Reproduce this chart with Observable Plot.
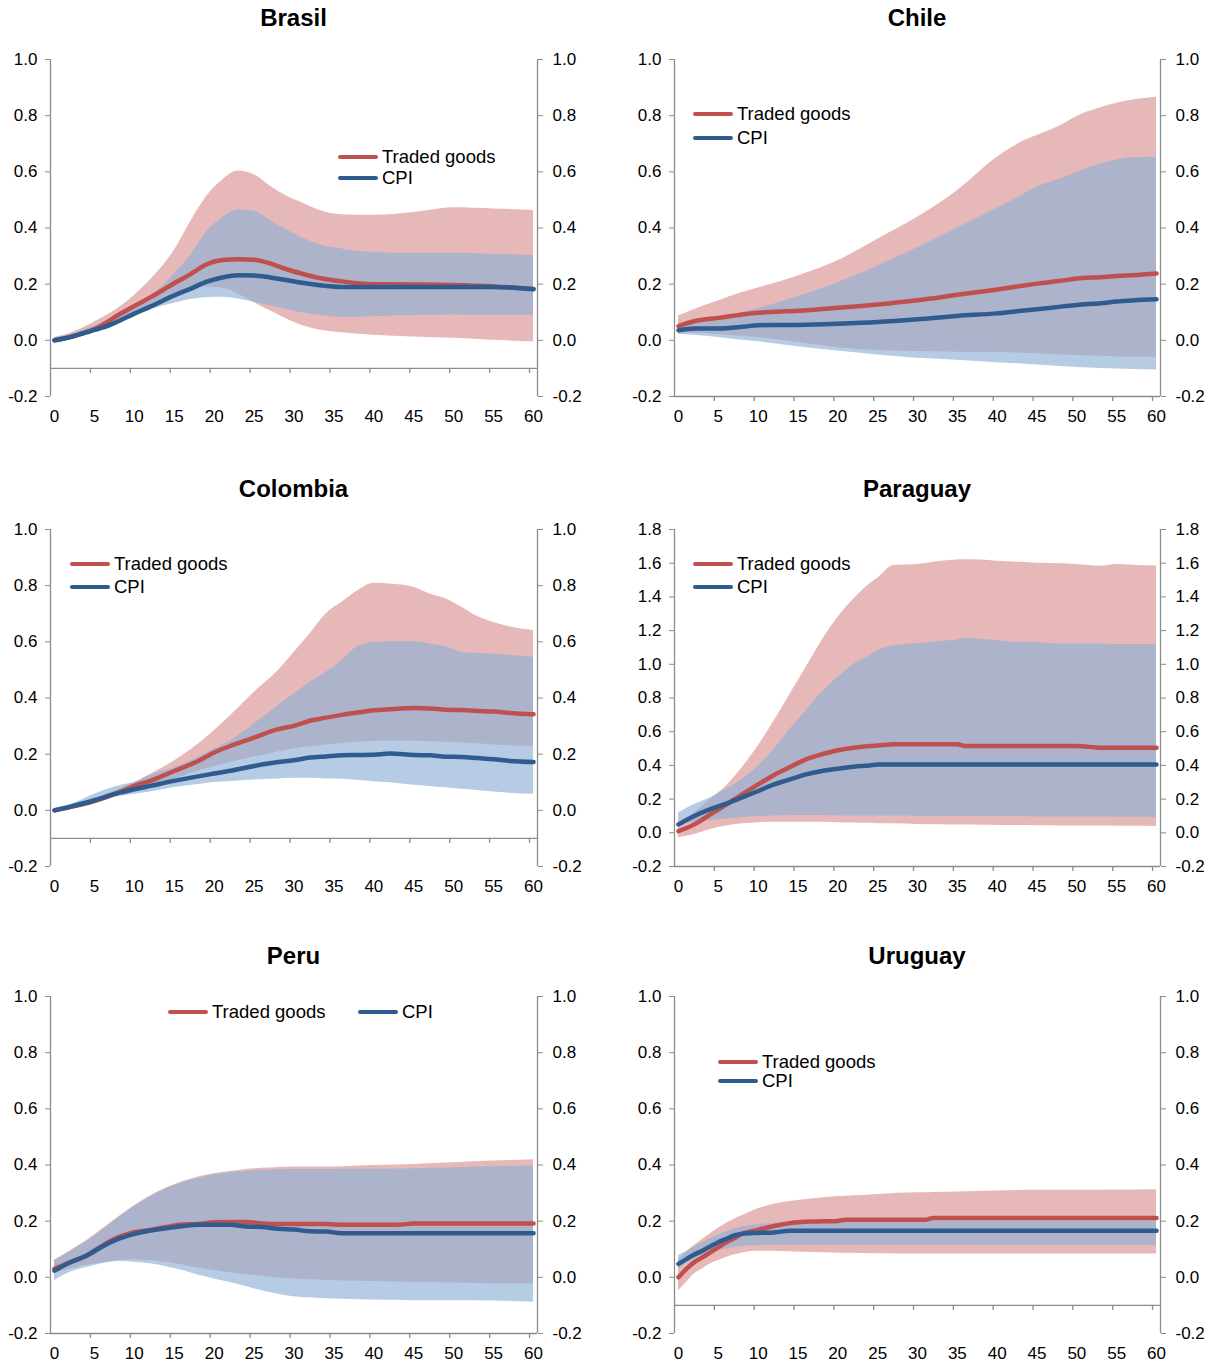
<!DOCTYPE html>
<html>
<head>
<meta charset="utf-8">
<script src="https://cdn.jsdelivr.net/npm/d3@7"></script>
<script src="https://cdn.jsdelivr.net/npm/@observablehq/plot@0.6"></script>
<style>
  body { margin: 0; background: #fff; font-family: "Liberation Sans", Arial, sans-serif; }
  #root { position: relative; width: 1213px; height: 1363px; overflow: hidden; }
  .panel { position: absolute; }
  .title { position: absolute; text-align: center; font-weight: bold; font-size: 24px; line-height: 28px; color: #000; }
  .lg-line { position: absolute; height: 4.5px; border-radius: 3px; }
  .lg-text { position: absolute; font-size: 18.5px; line-height: 22px; color: #000; white-space: nowrap; }
</style>
</head>
<body>
<div id="root"></div>
<script>
// ---------- tick labels ----------
const xTickLabels = [0, 5, 10, 15, 20, 25, 30, 35, 40, 45, 50, 55, 60];
const xTickMarks = [4.5, 9.5, 14.5, 19.5, 24.5, 29.5, 34.5, 39.5, 44.5, 49.5, 54.5, 59.5];
const yTicksStd = [-0.2, 0, 0.2, 0.4, 0.6, 0.8, 1.0];
const yTicksPar = [-0.2, 0, 0.2, 0.4, 0.6, 0.8, 1.0, 1.2, 1.4, 1.6, 1.8];
const seriesNames = ["Traded goods", "CPI"];

// ---------- Brasil ----------
const brT      = [0,2,4,5,6,8,10,12,15,17,19,21,23,25,27,29,31,33,36,40,45,50,55,60];
const brTr     = [0,0.012,0.03,0.04,0.055,0.09,0.122,0.153,0.203,0.235,0.27,0.286,0.289,0.287,0.274,0.254,0.237,0.223,0.21,0.2,0.199,0.197,0.192,0.183];
const brTrLo   = [-0.005,0.008,0.022,0.03,0.04,0.065,0.095,0.12,0.162,0.182,0.19,0.186,0.165,0.135,0.105,0.077,0.053,0.038,0.027,0.018,0.012,0.007,0.0,-0.005];
const brTrHi   = [0.01,0.025,0.05,0.065,0.08,0.115,0.16,0.215,0.32,0.42,0.51,0.57,0.603,0.59,0.55,0.515,0.49,0.465,0.447,0.445,0.455,0.472,0.468,0.462];
const brCpi    = [0,0.012,0.028,0.037,0.045,0.068,0.095,0.12,0.16,0.183,0.208,0.224,0.232,0.231,0.224,0.215,0.205,0.197,0.19,0.19,0.19,0.19,0.19,0.182];
const brCpiLo  = [-0.005,0.008,0.02,0.027,0.035,0.058,0.085,0.108,0.132,0.145,0.152,0.153,0.147,0.136,0.123,0.11,0.098,0.089,0.081,0.084,0.088,0.09,0.089,0.089];
const brCpiHi  = [0.005,0.018,0.04,0.05,0.062,0.09,0.122,0.155,0.235,0.3,0.385,0.435,0.465,0.46,0.428,0.395,0.365,0.342,0.325,0.313,0.31,0.31,0.306,0.302];

// ---------- Chile ----------
const clT      = [0,2,5,8,10,15,20,25,30,35,40,43,45,48,50,53,55,57,60];
const clTr     = [0.051,0.068,0.08,0.092,0.098,0.105,0.116,0.128,0.143,0.162,0.181,0.194,0.202,0.212,0.22,0.225,0.229,0.232,0.238];
const clTrLo   = [0.027,0.025,0.021,0.014,0.01,-0.008,-0.026,-0.036,-0.04,-0.042,-0.043,-0.046,-0.048,-0.052,-0.054,-0.057,-0.059,-0.06,-0.06];
const clTrHi   = [0.087,0.11,0.14,0.17,0.186,0.229,0.283,0.36,0.438,0.533,0.652,0.705,0.729,0.765,0.797,0.828,0.844,0.856,0.866];
const clCpi    = [0.036,0.042,0.042,0.048,0.054,0.055,0.059,0.065,0.075,0.087,0.096,0.105,0.111,0.12,0.126,0.132,0.138,0.142,0.146];
const clCpiLo  = [0.021,0.018,0.01,0.0,-0.005,-0.023,-0.038,-0.052,-0.064,-0.071,-0.08,-0.084,-0.088,-0.093,-0.097,-0.1,-0.102,-0.104,-0.106];
const clCpiHi  = [0.045,0.058,0.078,0.1,0.113,0.155,0.205,0.265,0.33,0.4,0.47,0.515,0.545,0.575,0.598,0.628,0.642,0.65,0.652];

// ---------- Colombia ----------
const coT      = [0,2,5,8,10,12,15,18,20,22,25,28,30,32,34,36,38,40,42,45,47,49,51,53,55,57,60];
const coTr     = [0,0.012,0.033,0.063,0.087,0.105,0.14,0.176,0.206,0.229,0.259,0.289,0.301,0.319,0.33,0.34,0.348,0.356,0.36,0.364,0.363,0.358,0.357,0.354,0.352,0.347,0.342];
const coTrLo   = [-0.005,0.008,0.03,0.055,0.07,0.085,0.11,0.14,0.155,0.17,0.19,0.208,0.218,0.226,0.233,0.238,0.242,0.245,0.246,0.246,0.244,0.242,0.24,0.237,0.233,0.23,0.226];
const coTrHi   = [0.005,0.015,0.039,0.075,0.099,0.128,0.176,0.235,0.283,0.336,0.42,0.497,0.562,0.628,0.699,0.741,0.782,0.809,0.806,0.794,0.77,0.753,0.723,0.69,0.669,0.654,0.64];
const coCpi    = [0,0.013,0.036,0.062,0.075,0.087,0.105,0.121,0.131,0.141,0.158,0.172,0.178,0.188,0.192,0.196,0.197,0.198,0.202,0.197,0.196,0.191,0.19,0.186,0.182,0.176,0.172];
const coCpiLo  = [-0.005,0.01,0.03,0.048,0.057,0.065,0.081,0.092,0.099,0.103,0.108,0.112,0.114,0.114,0.112,0.111,0.107,0.102,0.098,0.089,0.085,0.08,0.075,0.071,0.065,0.061,0.057];
const coCpiHi  = [0.005,0.02,0.057,0.087,0.099,0.125,0.152,0.188,0.218,0.247,0.307,0.372,0.414,0.455,0.491,0.533,0.583,0.598,0.6,0.6,0.592,0.583,0.562,0.559,0.556,0.552,0.545];

// ---------- Paraguay ----------
const paT      = [0,2,4,6,8,10,12,14,16,18,20,22,24,25,27,30,33,35,36,38,40,43,45,48,50,53,55,57,60];
const paTr     = [0.01,0.05,0.109,0.168,0.228,0.287,0.343,0.39,0.436,0.466,0.49,0.505,0.515,0.518,0.525,0.525,0.525,0.525,0.515,0.515,0.515,0.515,0.515,0.515,0.515,0.505,0.505,0.505,0.505];
const paTrLo   = [-0.03,-0.01,0.02,0.04,0.054,0.06,0.062,0.063,0.063,0.062,0.06,0.058,0.056,0.054,0.053,0.05,0.048,0.046,0.046,0.045,0.044,0.043,0.042,0.041,0.04,0.04,0.039,0.039,0.038];
const paTrHi   = [0.06,0.12,0.2,0.277,0.387,0.515,0.664,0.822,0.981,1.14,1.278,1.388,1.477,1.51,1.586,1.592,1.611,1.619,1.62,1.619,1.611,1.605,1.6,1.596,1.592,1.582,1.592,1.588,1.584];
const paCpi    = [0.05,0.1,0.14,0.173,0.21,0.248,0.287,0.317,0.347,0.367,0.38,0.392,0.4,0.406,0.406,0.406,0.406,0.406,0.406,0.406,0.406,0.406,0.406,0.406,0.406,0.406,0.406,0.406,0.406];
const paCpiLo  = [0.053,0.06,0.072,0.082,0.09,0.097,0.1,0.103,0.103,0.102,0.1,0.099,0.099,0.099,0.099,0.098,0.097,0.096,0.096,0.095,0.095,0.095,0.094,0.094,0.094,0.094,0.093,0.093,0.093];
const paCpiHi  = [0.119,0.168,0.208,0.258,0.317,0.396,0.496,0.614,0.723,0.832,0.922,1.001,1.051,1.08,1.11,1.124,1.136,1.144,1.154,1.148,1.14,1.13,1.13,1.12,1.12,1.12,1.118,1.118,1.116];

// ---------- Peru ----------
const peT      = [0,2,4,6,8,10,12,14,16,18,20,22,24,26,28,30,32,34,36,40,43,45,50,55,60];
const peTr     = [0.03,0.054,0.077,0.113,0.143,0.161,0.169,0.179,0.188,0.19,0.196,0.197,0.197,0.192,0.19,0.19,0.19,0.19,0.187,0.187,0.187,0.192,0.192,0.192,0.192];
const peTrLo   = [0.012,0.03,0.043,0.052,0.06,0.063,0.06,0.053,0.045,0.033,0.024,0.016,0.009,0.004,-0.002,-0.006,-0.009,-0.011,-0.013,-0.015,-0.017,-0.018,-0.02,-0.023,-0.024];
const peTrHi   = [0.062,0.095,0.13,0.172,0.215,0.255,0.29,0.318,0.34,0.357,0.369,0.377,0.384,0.388,0.391,0.393,0.393,0.393,0.394,0.398,0.4,0.402,0.408,0.414,0.419];
const peCpi    = [0.024,0.054,0.077,0.11,0.137,0.155,0.167,0.175,0.182,0.187,0.187,0.187,0.181,0.179,0.173,0.17,0.164,0.163,0.157,0.157,0.157,0.157,0.157,0.157,0.157];
const peCpiLo  = [-0.012,0.018,0.035,0.048,0.056,0.054,0.048,0.038,0.025,0.008,-0.006,-0.018,-0.033,-0.048,-0.06,-0.069,-0.073,-0.076,-0.078,-0.081,-0.082,-0.083,-0.083,-0.084,-0.089];
const peCpiHi  = [0.058,0.092,0.127,0.168,0.211,0.252,0.287,0.315,0.336,0.353,0.365,0.372,0.378,0.381,0.383,0.384,0.384,0.384,0.385,0.385,0.386,0.387,0.39,0.394,0.396];

// ---------- Uruguay ----------
const urT      = [0,1,2,3,4,5,6,7,8,10,12,14,17,20,21,25,30,31,32,35,40,45,50,55,60];
const urTr     = [0,0.03,0.054,0.071,0.089,0.107,0.125,0.139,0.155,0.169,0.183,0.193,0.199,0.201,0.205,0.205,0.205,0.205,0.211,0.211,0.211,0.211,0.211,0.211,0.211];
const urTrLo   = [-0.048,-0.018,0.012,0.03,0.048,0.06,0.071,0.08,0.087,0.093,0.093,0.091,0.088,0.086,0.086,0.084,0.083,0.083,0.083,0.083,0.083,0.083,0.083,0.083,0.083];
const urTrHi   = [0.06,0.09,0.113,0.135,0.155,0.175,0.193,0.207,0.22,0.244,0.26,0.27,0.28,0.288,0.289,0.295,0.301,0.301,0.302,0.304,0.307,0.31,0.31,0.311,0.312];
const urCpi    = [0.048,0.065,0.081,0.095,0.11,0.125,0.137,0.149,0.155,0.158,0.16,0.166,0.166,0.166,0.166,0.166,0.166,0.166,0.166,0.166,0.166,0.166,0.166,0.166,0.166];
const urCpiLo  = [0.03,0.05,0.065,0.078,0.089,0.096,0.101,0.106,0.11,0.113,0.114,0.114,0.114,0.114,0.114,0.114,0.114,0.114,0.114,0.114,0.113,0.113,0.113,0.113,0.113];
const urCpiHi  = [0.077,0.092,0.107,0.122,0.137,0.15,0.161,0.171,0.179,0.187,0.193,0.197,0.199,0.2,0.2,0.2,0.2,0.2,0.2,0.2,0.2,0.2,0.2,0.2,0.2];

// ---------- styling constants ----------
const RED = "#c0504d", BLUE = "#2f5b8e";
const PINK_BAND = "#e6b9b8", BLUE_BAND = "rgb(144,176,214)", BLUE_BAND_OPACITY = 0.66;
const AXIS = "#8c8c8c";
const X_DOMAIN = [-0.5, 60.5];

// panel layout (pixels) and per-panel options
const panels = [
  {name: "Brasil",   t: brT, tr: brTr, trLo: brTrLo, trHi: brTrHi, cpi: brCpi, cpiLo: brCpiLo, cpiHi: brCpiHi,
   left: 0, top: 35, width: 606, mr: 69, yDomain: [-0.2, 1.0], yTicks: yTicksStd, xAxisAt: -0.1, titleY: 4,
   legend: {type: "v", x: 338, y1: 157, y2: 178}},
  {name: "Chile",    t: clT, tr: clTr, trLo: clTrLo, trHi: clTrHi, cpi: clCpi, cpiLo: clCpiLo, cpiHi: clCpiHi,
   left: 624, top: 35, width: 589, mr: 53, yDomain: [-0.2, 1.0], yTicks: yTicksStd, xAxisAt: -0.2, titleY: 4,
   legend: {type: "v", x: 693, y1: 114, y2: 138}},
  {name: "Colombia", t: coT, tr: coTr, trLo: coTrLo, trHi: coTrHi, cpi: coCpi, cpiLo: coCpiLo, cpiHi: coCpiHi,
   left: 0, top: 505, width: 606, mr: 69, yDomain: [-0.2, 1.0], yTicks: yTicksStd, xAxisAt: -0.1, titleY: 475,
   legend: {type: "v", x: 70, y1: 564, y2: 587}},
  {name: "Paraguay", t: paT, tr: paTr, trLo: paTrLo, trHi: paTrHi, cpi: paCpi, cpiLo: paCpiLo, cpiHi: paCpiHi,
   left: 624, top: 505, width: 589, mr: 53, yDomain: [-0.2, 1.8], yTicks: yTicksPar, xAxisAt: -0.2, titleY: 475,
   legend: {type: "v", x: 693, y1: 564, y2: 587}},
  {name: "Peru",     t: peT, tr: peTr, trLo: peTrLo, trHi: peTrHi, cpi: peCpi, cpiLo: peCpiLo, cpiHi: peCpiHi,
   left: 0, top: 972, width: 606, mr: 69, yDomain: [-0.2, 1.0], yTicks: yTicksStd, xAxisAt: -0.2, titleY: 942,
   legend: {type: "h", x1: 168, x2: 358, y: 1012}},
  {name: "Uruguay",  t: urT, tr: urTr, trLo: urTrLo, trHi: urTrHi, cpi: urCpi, cpiLo: urCpiLo, cpiHi: urCpiHi,
   left: 624, top: 972, width: 589, mr: 53, yDomain: [-0.2, 1.0], yTicks: yTicksStd, xAxisAt: -0.1, titleY: 942,
   legend: {type: "v", x: 718, y1: 1062, y2: 1081}}
];

const root = document.getElementById("root");
const ML = 50, MT = 24, MB = 28, FRAME_H = 337;

function addLegendItem(x, y, color, label) {
  const l = document.createElement("div");
  l.className = "lg-line";
  l.style.left = x + "px"; l.style.top = (y - 2.25) + "px"; l.style.width = "40px"; l.style.background = color;
  root.appendChild(l);
  const t = document.createElement("div");
  t.className = "lg-text";
  t.textContent = label;
  t.style.left = (x + 44) + "px"; t.style.top = (y - 11) + "px";
  root.appendChild(t);
}

for (const p of panels) {
  const rows = p.t.map((t, i) => ({t, tr: p.tr[i], trLo: p.trLo[i], trHi: p.trHi[i], cpi: p.cpi[i], cpiLo: p.cpiLo[i], cpiHi: p.cpiHi[i]}));
  const fmt = d => d.toFixed(1);
  const chart = Plot.plot({
    width: p.width,
    height: MT + FRAME_H + MB,
    marginTop: MT, marginBottom: MB, marginLeft: ML, marginRight: p.mr,
    x: {domain: X_DOMAIN},
    y: {domain: p.yDomain},
    style: {fontFamily: "'Liberation Sans', Arial, sans-serif", fontSize: "17px", color: "#000", background: "transparent", overflow: "visible"},
    marks: [
      Plot.areaY(rows, {x: "t", y1: "trLo", y2: "trHi", fill: PINK_BAND, curve: "monotone-x"}),
      Plot.areaY(rows, {x: "t", y1: "cpiLo", y2: "cpiHi", fill: BLUE_BAND, fillOpacity: BLUE_BAND_OPACITY, curve: "monotone-x"}),
      Plot.ruleX(X_DOMAIN, {stroke: AXIS, strokeWidth: 1.3}),
      Plot.ruleY([p.xAxisAt], {stroke: AXIS, strokeWidth: 1.3}),
      Plot.ruleX(xTickMarks, {y1: p.xAxisAt, y2: p.xAxisAt, insetBottom: -5, stroke: AXIS, strokeWidth: 1.3}),
      Plot.axisX({anchor: "bottom", ticks: xTickLabels, tickSize: 0, tickPadding: 13, tickFormat: d => String(d), label: null}),
      Plot.axisY({anchor: "left", ticks: p.yTicks, tickSize: 5, tickPadding: 8, tickFormat: fmt, stroke: AXIS, label: null}),
      Plot.axisY({anchor: "right", ticks: p.yTicks, tickSize: 5, tickPadding: 10, tickFormat: fmt, stroke: AXIS, label: null}),
      Plot.line(rows, {x: "t", y: "tr", stroke: RED, strokeWidth: 4.5, curve: "monotone-x", strokeLinecap: "round", strokeLinejoin: "round"}),
      Plot.line(rows, {x: "t", y: "cpi", stroke: BLUE, strokeWidth: 4.5, curve: "monotone-x", strokeLinecap: "round", strokeLinejoin: "round"})
    ]
  });
  const wrap = document.createElement("div");
  wrap.className = "panel";
  wrap.style.left = p.left + "px"; wrap.style.top = p.top + "px";
  wrap.appendChild(chart);
  root.appendChild(wrap);

  const title = document.createElement("div");
  title.className = "title";
  title.textContent = p.name;
  const fx0 = p.left + ML, fx1 = p.left + p.width - p.mr;
  title.style.left = fx0 + "px"; title.style.width = (fx1 - fx0) + "px"; title.style.top = p.titleY + "px";
  root.appendChild(title);

  const lg = p.legend;
  if (lg.type === "v") {
    addLegendItem(lg.x, lg.y1, RED, seriesNames[0]);
    addLegendItem(lg.x, lg.y2, BLUE, seriesNames[1]);
  } else {
    addLegendItem(lg.x1, lg.y, RED, seriesNames[0]);
    addLegendItem(lg.x2, lg.y, BLUE, seriesNames[1]);
  }
}
</script>
</body>
</html>
